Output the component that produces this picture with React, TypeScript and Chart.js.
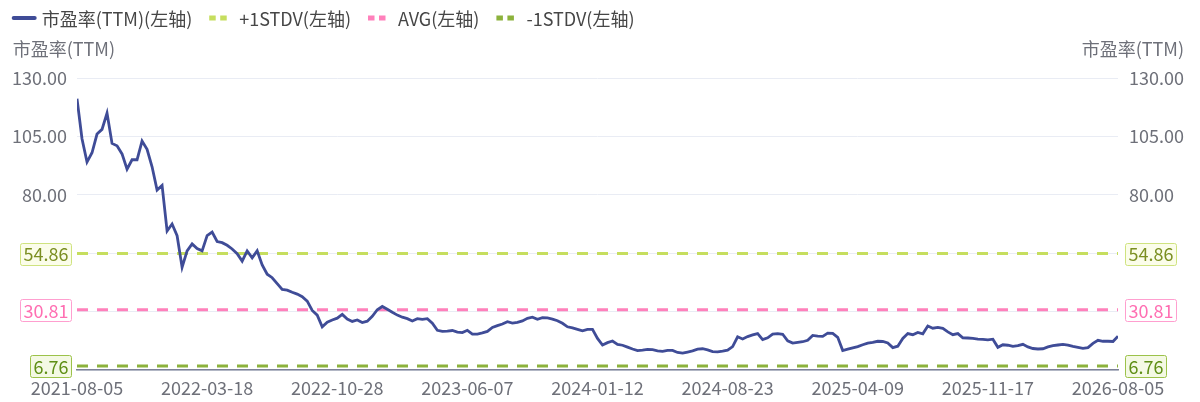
import React, { useEffect, useRef } from 'react';
import { Chart, registerables } from 'chart.js';

Chart.register(...registerables);

const FONT = '"Noto Sans CJK SC", "Noto Sans", sans-serif';

// x-axis tick labels (evenly spaced along the series)
const xTickLabels = [
  '2021-08-05', '2022-03-18', '2022-10-28', '2023-06-07', '2024-01-12',
  '2024-08-23', '2025-04-09', '2025-11-17', '2026-08-05',
];

// 市盈率(TTM) series
const peValues = [
  121.1, 104, 94, 98, 106, 108, 115, 102, 101, 97.5,
  91, 95, 95, 103, 99.5, 92, 82, 84, 64.5, 67.5,
  62.5, 49, 56, 59, 57, 56, 62.5, 64, 60, 59.5,
  58.4, 56.8, 54.8, 51.6, 56, 53, 56, 50, 46, 44.5,
  42, 39.5, 39.2, 38.3, 37.5, 36.4, 34.5, 30.5, 28.5, 23.5,
  25.5, 26.4, 27.2, 28.8, 26.8, 25.8, 26.4, 25.3, 25.9, 28,
  30.8, 32.2, 31, 29.7, 28.5, 27.6, 27, 26, 27, 26.7,
  27, 25, 22, 21.5, 21.6, 21.9, 21.2, 21, 22, 20.4,
  20.4, 20.9, 21.5, 23.2, 24, 24.7, 25.7, 25.1, 25.4, 26,
  27.1, 27.6, 26.7, 27.4, 27.3, 26.8, 26.1, 25, 23.5, 23,
  22.4, 21.8, 22.4, 22.4, 18.5, 15.7, 16.7, 17.4, 16, 15.6,
  14.8, 14, 13.3, 13.5, 13.8, 13.7, 13.2, 13, 13.4, 13.4,
  12.5, 12.2, 12.7, 13.2, 13.9, 14.1, 13.6, 12.9, 12.8, 13.1,
  13.5, 15, 19.2, 18.3, 19.3, 20, 20.6, 18, 18.8, 20.4,
  20.6, 20.3, 17.5, 16.5, 16.8, 17.1, 17.7, 19.8, 19.5, 19.4,
  20.8, 20.7, 19, 13.3, 13.9, 14.5, 15, 15.8, 16.5, 16.8,
  17.3, 17.2, 16.6, 14.6, 15.2, 18.5, 20.6, 20.1, 21.1, 20.5,
  23.8, 22.9, 23.2, 22.8, 21.3, 20.1, 20.6, 18.8, 18.7, 18.5,
  18.2, 18.1, 17.9, 18.2, 14.7, 15.8, 15.6, 15.1, 15.4, 16,
  14.9, 14.2, 14, 14.1, 14.9, 15.4, 15.7, 16, 15.6, 15.1,
  14.7, 14.3, 14.6, 16.4, 17.7, 17.3, 17.3, 17.2, 19.5,
];

// reference levels
const plusStdValue = 54.86;
const avgValue = 30.81;
const minusStdValue = 6.76;

// y-axis ticks
const yMin = 5;
const yMax = 130;
const yStep = 25;
const yLabelledFrom = 80;

const seriesNames = ['市盈率(TTM)(左轴)', '+1STDV(左轴)', 'AVG(左轴)', '-1STDV(左轴)'];
const axisTitle = '市盈率(TTM)';

const COLORS = {
  pe: '#3f4c97',
  plus: '#c6de5e',
  avg: '#ff80bb',
  minus: '#8cb23c',
  tick: '#6e7079',
  legendText: '#464646',
  grid: '#e9ecf4',
};

export default function App() {
  const ref = useRef<HTMLCanvasElement>(null);

  useEffect(() => {
    document.body.style.margin = '0';
    const canvas = ref.current;
    if (!canvas) return;

    const lastIndex = peValues.length - 1;
    const step = lastIndex / (xTickLabels.length - 1);
    const toPts = (vals: number[]) => vals.map((v, i) => ({ x: i, y: v }));
    const constPts = (v: number) => peValues.map((_, i) => ({ x: i, y: v }));

    const markers = [
      { value: plusStdValue, text: '#7b8f22', border: '#cfe37f', bg: '#fbfdea' },
      { value: avgValue, text: '#ff6fb2', border: '#ff9fcf', bg: '#ffffff' },
      { value: minusStdValue, text: '#5f8f16', border: '#9cc24a', bg: '#f4f9e4' },
    ];

    const overlay = {
      id: 'overlay',
      afterDraw(chart: any) {
        const c = chart.ctx as CanvasRenderingContext2D;
        const area = chart.chartArea;
        const ys = chart.scales.y;
        c.save();
        c.font = `18px ${FONT}`;
        c.textBaseline = 'middle';

        // legend
        const legendColors = [COLORS.pe, COLORS.plus, COLORS.avg, COLORS.minus];
        let x = 11.7;
        const ly = 18;
        seriesNames.forEach((name, k) => {
          c.fillStyle = legendColors[k];
          if (k === 0) {
            c.beginPath();
            (c as any).roundRect(x, ly - 2, 25, 4, 2);
            c.fill();
          } else {
            c.fillRect(x, ly - 2.5, 6.5, 5);
            c.fillRect(x + 11, ly - 2.5, 6.5, 5);
          }
          c.fillStyle = COLORS.legendText;
          c.textAlign = 'left';
          c.fillText(name, x + 30, ly + 1);
          x += 30 + c.measureText(name).width + 17;
        });

        // axis titles
        c.fillStyle = COLORS.tick;
        c.textAlign = 'left';
        c.fillText(axisTitle, 12.7, 49);
        c.textAlign = 'right';
        c.fillText(axisTitle, 1184, 49);

        // level markers
        markers.forEach((m) => {
          const py = ys.getPixelForValue(m.value);
          const label = m.value.toFixed(2);
          const w = c.measureText(label).width + 6;
          const h = 22;
          const boxes = [area.left - 6 - w, area.right + 7];
          boxes.forEach((bx) => {
            c.fillStyle = m.bg;
            c.strokeStyle = m.border;
            c.lineWidth = 1;
            c.beginPath();
            (c as any).roundRect(Math.round(bx) + 0.5, Math.round(py - h / 2) + 0.5, Math.round(w), h, 2);
            c.fill();
            c.stroke();
            c.fillStyle = m.text;
            c.textAlign = 'center';
            c.fillText(label, Math.round(bx) + Math.round(w) / 2 + 0.5, py + 1);
          });
        });
        c.restore();
      },
    };

    const tickFont = { size: 18, family: FONT };
    const yTickCb = (v: any) => (Number(v) >= yLabelledFrom ? Number(v).toFixed(2) : '');

    const chart = new Chart(canvas, {
      type: 'line',
      data: {
        datasets: [
          {
            label: seriesNames[0],
            data: toPts(peValues),
            borderColor: COLORS.pe,
            borderWidth: 2.8,
            pointRadius: 0,
            tension: 0,
            order: 0,
            yAxisID: 'y',
          },
          {
            label: seriesNames[1],
            data: constPts(plusStdValue),
            borderColor: COLORS.plus,
            borderWidth: 3,
            borderDash: [11, 9],
            pointRadius: 0,
            order: 1,
            yAxisID: 'y',
          },
          {
            label: seriesNames[2],
            data: constPts(avgValue),
            borderColor: COLORS.avg,
            borderWidth: 3,
            borderDash: [11, 9],
            pointRadius: 0,
            order: 1,
            yAxisID: 'y',
          },
          {
            label: seriesNames[3],
            data: constPts(minusStdValue),
            borderColor: COLORS.minus,
            borderWidth: 3,
            borderDash: [11, 9],
            pointRadius: 0,
            order: 1,
            yAxisID: 'y',
          },
        ],
      } as any,
      options: {
        animation: false,
        responsive: true,
        maintainAspectRatio: false,
        layout: { padding: { top: 78, left: 0, right: 0, bottom: 0 } },
        plugins: { legend: { display: false }, tooltip: { enabled: false } },
        scales: {
          x: {
            type: 'linear',
            min: 0,
            max: lastIndex,
            grid: { display: false },
            border: { display: true, color: '#7d8196', width: 1.5 },
            ticks: {
              stepSize: step,
              autoSkip: false,
              maxRotation: 0,
              padding: -1,
              color: COLORS.tick,
              font: tickFont,
              callback: (v: any) => xTickLabels[Math.round(Number(v) / step)] ?? '',
            },
            afterFit: (s: any) => {
              s.height = 32;
            },
          },
          y: {
            position: 'left',
            min: yMin,
            max: yMax,
            grid: { color: COLORS.grid, drawTicks: false },
            border: { display: false },
            ticks: { stepSize: yStep, padding: 10, color: COLORS.tick, font: tickFont, callback: yTickCb },
            afterFit: (s: any) => {
              s.width = 77;
            },
          },
          y2: {
            position: 'right',
            min: yMin,
            max: yMax,
            grid: { drawOnChartArea: false, drawTicks: false },
            border: { display: false },
            ticks: { stepSize: yStep, padding: 11, color: COLORS.tick, font: tickFont, callback: yTickCb },
            afterFit: (s: any) => {
              s.width = 82;
            },
          },
        },
      } as any,
      plugins: [overlay],
    });

    return () => chart.destroy();
  }, []);

  return (
    <div style={{ width: 1200, height: 402, position: 'relative' }}>
      <canvas ref={ref} />
    </div>
  );
}
